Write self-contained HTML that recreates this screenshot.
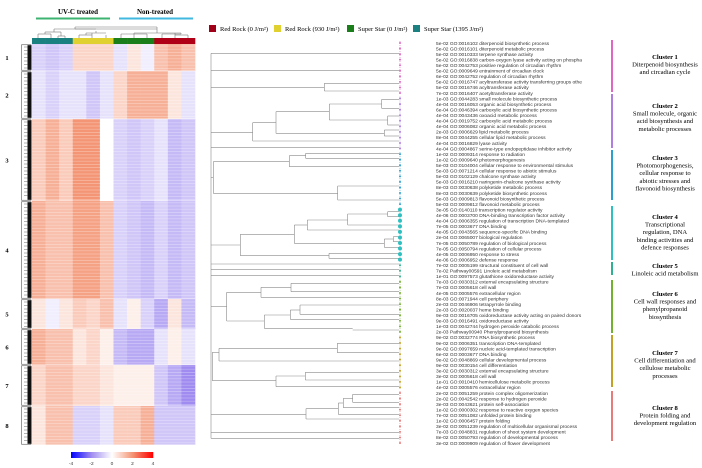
<!DOCTYPE html>
<html><head><meta charset="utf-8"><style>
html,body{margin:0;padding:0;background:#fff;}
svg{display:block;}
</style></head><body>
<svg id="fig" width="702" height="468" viewBox="0 0 702 468" xmlns="http://www.w3.org/2000/svg">
<g id="static">
  <text x="78" y="14" font-family="Liberation Serif, serif" font-size="7" font-weight="bold" text-anchor="middle">UV-C treated</text>
  <line x1="36" y1="18.5" x2="110" y2="18.5" stroke="#3cb371" stroke-width="2"/>
  <text x="155" y="14" font-family="Liberation Serif, serif" font-size="7" font-weight="bold" text-anchor="middle">Non-treated</text>
  <line x1="119" y1="18.5" x2="193" y2="18.5" stroke="#40b8e0" stroke-width="2"/>
  <g font-family="Liberation Serif, serif" font-size="6.5">
    <rect x="209" y="25" width="7" height="7" fill="#a00018"/>
    <text x="220" y="31">Red Rock (0 J/m²)</text>
    <rect x="274" y="25" width="7" height="7" fill="#e0d030"/>
    <text x="285" y="31">Red Rock (930 J/m²)</text>
    <rect x="347" y="25" width="7" height="7" fill="#1a7f1a"/>
    <text x="358" y="31">Super Star (0 J/m²)</text>
    <rect x="413" y="25" width="7" height="7" fill="#1a8080"/>
    <text x="424" y="31">Super Star (1395 J/m²)</text>
  </g>
</g>
<g id="heat"></g>
<g id="coltree" stroke="#777" stroke-width="0.6" fill="none"></g>
<g id="rowtree"></g>
<g id="godend" stroke="#8a8a8a" stroke-width="0.6" fill="none"></g>
<g id="golist"></g>
<g id="clusters"></g>
<g id="cbar"></g>
</svg>
<script>
// ---- heatmap data ----
const columns = ['SS1395-1','SS1395-2','SS1395-3','RR930-1','RR930-2','RR930-3','SS0-1','SS0-2','SS0-3','RR0-1','RR0-2','RR0-3'];
const columnGroupColors = ['#1a8080','#1a8080','#1a8080','#e0d030','#e0d030','#e0d030','#1a7f1a','#1a7f1a','#1a7f1a','#b00018','#b00018','#b00018'];
const geneClusters = ['1','2','3','4','5','6','7','8'];
const clusterRowCounts = [27,48,82,98,30,36,41,39];
const c1 = [-0.8,-1,-0.8,0.8,0.8,0.8,-0.5,0.5,-0.3,1.2,1.5,1.2];
const c2 = [-0.5,-0.8,-0.5,-0.5,-1,-0.5,0.8,1.5,1.5,1.5,0.5,-0.5];
const c3 = [1,1.5,1,2,2,0,-0.8,-1,-0.8,-0.5,-1.2,-1];
const c4 = [1.5,1.2,1.2,1.8,1.8,1.2,-0.8,-1,-1.2,-0.8,-1.2,-1];
const c5 = [0.5,-0.3,0.5,1,0.8,1.2,-0.5,0.3,-0.8,-1.5,0.5,-1.2];
const c6 = [1.5,1.2,1.2,0.5,0.8,0.3,-1.2,-1.5,-1.5,-0.5,0.3,-0.5];
const c7 = [0.8,1.2,1.2,0.8,0.8,0.5,0.3,0.3,0.3,-1,-1.5,-2];
const c8 = [0.5,1.2,1.2,-0.8,-0.8,-0.5,1,1,1.5,-1,-1,-1];
const clusterProfiles = [c1,c2,c3,c4,c5,c6,c7,c8];
const colorbarTicks = [-4,-2,0,2,4];

// ---- GO enrichment data ----
const goTerms = [
"5e-02 GO:0016102 diterpenoid biosynthetic process","5e-02 GO:0016101 diterpenoid metabolic process","5e-02 GO:0010333 terpene synthase activity","5e-02 GO:0016838 carbon-oxygen lyase activity acting on phospha","5e-02 GO:0042753 positive regulation of circadian rhythm","5e-02 GO:0009649 entrainment of circadian clock","6e-02 GO:0042752 regulation of circadian rhythm","5e-02 GO:0016747 acyltransferase activity transferring groups othe","5e-02 GO:0016746 acyltransferase activity","7e-02 GO:0016407 acetyltransferase activity",
"1e-03 GO:0044283 small molecule biosynthetic process","4e-04 GO:0016053 organic acid biosynthetic process","6e-04 GO:0046394 carboxylic acid biosynthetic process","4e-04 GO:0043436 oxoacid metabolic process","4e-04 GO:0019752 carboxylic acid metabolic process","4e-04 GO:0006082 organic acid metabolic process","2e-03 GO:0006629 lipid metabolic process","8e-04 GO:0044255 cellular lipid metabolic process","4e-04 GO:0016829 lyase activity","4e-04 GO:0004867 serine-type endopeptidase inhibitor activity",
"1e-02 GO:0009314 response to radiation","1e-02 GO:0009640 photomorphogenesis","5e-03 GO:0104004 cellular response to environmental stimulus","5e-03 GO:0071214 cellular response to abiotic stimulus","5e-03 GO:0102129 chalcone synthase activity","5e-03 GO:0016210 naringenin-chalcone synthase activity","8e-03 GO:0030638 polyketide metabolic process","8e-03 GO:0030639 polyketide biosynthetic process","5e-03 GO:0009813 flavonoid biosynthetic process","5e-03 GO:0009812 flavonoid metabolic process",
"3e-05 GO:0140110 transcription regulator activity","4e-06 GO:0003700 DNA-binding transcription factor activity","4e-04 GO:0006355 regulation of transcription DNA-templated","7e-05 GO:0003677 DNA binding","4e-05 GO:0043565 sequence-specific DNA binding","2e-04 GO:0065007 biological regulation","7e-05 GO:0050789 regulation of biological process","7e-05 GO:0050794 regulation of cellular process","4e-05 GO:0006950 response to stress","4e-06 GO:0006952 defense response",
"7e-02 GO:0005199 structural constituent of cell wall","7e-02 Pathway00591 Linoleic acid metabolism","1e-01 GO:0097573 glutathione oxidoreductase activity",
"7e-03 GO:0030312 external encapsulating structure","7e-03 GO:0005618 cell wall","4e-05 GO:0005576 extracellular region","8e-03 GO:0071944 cell periphery","2e-03 GO:0046906 tetrapyrrole binding","2e-03 GO:0020037 heme binding","9e-03 GO:0016705 oxidoreductase activity acting on paired donors","9e-03 GO:0016491 oxidoreductase activity","1e-03 GO:0042744 hydrogen peroxide catabolic process","2e-03 Pathway00940 Phenylpropanoid biosynthesis",
"9e-02 GO:0032774 RNA biosynthetic process","9e-02 GO:0006351 transcription DNA-templated","9e-02 GO:0097659 nucleic acid-templated transcription","6e-02 GO:0003677 DNA binding","9e-02 GO:0048869 cellular developmental process","9e-02 GO:0030154 cell differentiation","3e-02 GO:0030312 external encapsulating structure","3e-02 GO:0005618 cell wall","1e-01 GO:0010410 hemicellulose metabolic process","4e-02 GO:0005576 extracellular region",
"2e-02 GO:0051259 protein complex oligomerization","2e-02 GO:0042542 response to hydrogen peroxide","3e-03 GO:0043621 protein self-association","1e-02 GO:0000302 response to reactive oxygen species","7e-02 GO:0051082 unfolded protein binding","1e-02 GO:0006457 protein folding","3e-02 GO:0051239 regulation of multicellular organismal process","7e-03 GO:0048831 regulation of shoot system development","8e-02 GO:0050793 regulation of developmental process","3e-02 GO:0009909 regulation of flower development"];
const goTermCluster = [0,0,0,0,0,0,0,0,0,0, 1,1,1,1,1,1,1,1,1,1, 2,2,2,2,2,2,2,2,2,2, 3,3,3,3,3,3,3,3,3,3, 4,4,4, 5,5,5,5,5,5,5,5,5,5, 6,6,6,6,6,6,6,6,6,6, 7,7,7,7,7,7,7,7,7,7];
const clusterTitles = ['Cluster 1','Cluster 2','Cluster 3','Cluster 4','Cluster 5','Cluster 6','Cluster 7','Cluster 8'];
const clusterDescriptions = [
 ['Diterpenoid biosynthesis','and circadian cycle'],
 ['Small molecule, organic','acid biosynthesis and','metabolic processes'],
 ['Photomorphogenesis,','cellular response to','abiotic stresses and','flavonoid biosynthesis'],
 ['Transcriptional','regulation, DNA','binding activities and','defence responses'],
 ['Linoleic acid metabolism'],
 ['Cell wall responses and','phenylpropanoid','biosynthesis'],
 ['Cell differentiation and','cellulose metabolic','processes'],
 ['Protein folding and','development regulation']];
const clusterColors = ['#e066c4','#b07ee0','#2a9fd0','#2ebfc0','#2fb08e','#72b030','#c4a025','#e87a7a'];

const NS='http://www.w3.org/2000/svg';
function mk(tag, attrs, parent){const e=document.createElementNS(NS,tag);for(const k in attrs)e.setAttribute(k,attrs[k]);parent.appendChild(e);return e;}

function mix(a,b,t){return a.map((v,i)=>Math.round(v+(b[i]-v)*t));}
function valColor(v){
  v=Math.max(-4,Math.min(4,v));let c;
  if(v>=0){c = v<=2?mix([255,255,255],[244,150,118],v/2):mix([244,150,118],[255,0,0],(v-2)/2);}
  else {const a=-v; c = a<=2?mix([255,255,255],[160,140,240],a/2):mix([160,140,240],[0,0,255],(a-2)/2);}
  return 'rgb('+c.join(',')+')';
}

const hx0=32,hx1=195,hy0=44,hy1=445;
const totalRows=clusterRowCounts.reduce((a,b)=>a+b,0);
const xCol=i=>hx0+(hx1-hx0)*i/columns.length;
const yRow=r=>hy0+(hy1-hy0)*r/totalRows;
const heat=document.getElementById('heat');
const hmG=mk('g',{},heat);


columns.forEach((c,i)=>{
  const r=mk('rect',{x:xCol(i),y:38,width:xCol(i+1)-xCol(i)+0.3,height:6,fill:columnGroupColors[i]},hmG);
  
  
});
let rowStart=0;
const rowTree=document.getElementById('rowtree');
geneClusters.forEach((cl,k)=>{
  const prof=clusterProfiles[k];
  const ya=yRow(rowStart), yb=yRow(rowStart+clusterRowCounts[k]);
  prof.forEach((v,i)=>{
    const r=mk('rect',{x:xCol(i),y:ya,width:xCol(i+1)-xCol(i)+0.3,height:yb-ya,fill:valColor(v)},hmG);
    
    
  });
  const s=mk('line',{x1:hx0-12,x2:hx1,y1:yb,y2:yb,stroke:'#fff','stroke-width':0.8},hmG);
  
  
  const tb=mk('rect',{x:21.5,y:ya+0.8,width:9.5,height:yb-ya-1.6,fill:'none',stroke:'#333','stroke-width':0.5},rowTree);
  
  
  const fill=mk('rect',{x:27.5,y:ya+1.2,width:4,height:yb-ya-2.4,fill:'#111'},rowTree);
  
  
  for(let y=ya+3;y<yb-2;y+=3.5){
    const b=mk('line',{x1:24,x2:28,y1:y,y2:y,stroke:'#444','stroke-width':0.4},rowTree);
    
    
  }
  const lab=mk('text',{x:7,y:(ya+yb)/2+2.5,'font-family':'Liberation Serif, serif','font-size':6.5,'font-weight':'bold','text-anchor':'middle'},rowTree);
  lab.textContent=cl;
  
  
  rowStart+=clusterRowCounts[k];
});
for(let y=hy0+2;y<hy1;y+=3.2){
  const l=mk('line',{x1:hx0,x2:hx1,y1:y,y2:y,stroke:'#fff','stroke-opacity':0.35,'stroke-width':0.7},hmG);
  
  
}

const ct=document.getElementById('coltree');


const colSegs=[[38,38,38,34],[51,38,51,34],[38,34,51,34],[58,38,58,36],[65,38,65,36],[58,36,65,36],[45,34,45,32],[61,36,61,32],[45,32,61,32],[79,38,79,35],[92,38,92,33],[106,38,106,35],[79,35,92,35],[86,35,86,33],[86,33,106,33],[96,33,96,31],[54,32,54,29],[54,29,96,29],[121,38,121,34],[134,38,134,33],[147,38,147,34],[121,34,147,34],[162,38,162,34],[175,38,175,33],[188,38,188,35],[175,35,188,35],[162,34,181,34],[181,34,181,33],[134,33,181,33],[157,33,157,29],[75,29,157,29],[75,29,75,27],[157,29,157,27],[75,27,157,27]];
colSegs.forEach(s=>{mk('line',{x1:s[0],y1:s[1],x2:s[2],y2:s[3]},ct);});

const goY0=43, goY1=443;
const yGo=i=>goY0+(goY1-goY0)*i/(goTerms.length-1);
const gl=document.getElementById('golist');
goTerms.forEach((t,i)=>{
  const tx=mk('text',{x:436,y:yGo(i)+1.8,'font-family':'Liberation Sans, sans-serif','font-size':4.9,fill:'#333'},gl);
  tx.textContent=t;
  
  
  const col=clusterColors[goTermCluster[i]];
  const big=goTermCluster[i]===3;
  const d=mk('circle',{cx:400,cy:yGo(i),r:big?2:1,fill:col},gl);
  
  
});
clusterColors.forEach((c,k)=>{
  const idx=goTermCluster.map((v,i)=>v===k?i:-1).filter(i=>i>=0);
  const l=mk('line',{x1:400,x2:400,y1:yGo(idx[0])-2,y2:yGo(idx[idx.length-1])+2,stroke:c,'stroke-width':0.6,'stroke-dasharray':'1,1'},gl);
  
  
});

const gd=document.getElementById('godend');


const X=z=>200+z/3, Y=z=>40+z/3;
function H(zy,zx1,zx2){mk('line',{x1:X(zx1),x2:X(zx2),y1:Y(zy),y2:Y(zy)},gd);}
function V(zx,zy1,zy2){mk('line',{x1:X(zx),x2:X(zx),y1:Y(zy1),y2:Y(zy2)},gd);}
V(33,40,1195);
[40,92,322,672,688,706,1177,1195].forEach(y=>H(y,33,597));
H(130,373,597);H(153,373,597);V(373,130,153);H(143,33,373);
H(178,545,597);H(205,545,597);V(545,178,205);H(228,563,597);H(255,563,597);V(563,228,255);H(192,388,545);H(240,388,563);V(388,192,240);
H(270,553,597);H(288,553,597);V(553,270,288);H(215,228,388);H(280,228,553);V(228,215,280);H(248,158,228);H(303,158,597);V(158,248,303);H(278,33,158);
H(340,317,597);H(355,317,597);V(317,340,355);H(380,268,597);H(347,268,317);V(268,347,380);H(438,413,597);H(480,413,597);V(413,438,480);H(365,40,268);H(460,40,413);V(40,365,460);H(412,33,40);
H(515,563,597);H(530,563,597);V(563,515,530);H(522,443,563);H(555,443,597);V(443,522,555);H(540,322,443);H(570,322,597);V(322,540,570);
H(590,580,597);H(605,580,597);V(580,590,605);H(597,553,580);H(622,553,597);V(553,597,622);H(555,283,322);H(610,283,553);V(283,555,610);
H(640,387,597);H(655,387,597);V(387,640,655);H(583,121,283);H(647,121,387);V(121,583,647);H(615,33,121);
H(730,273,597);H(755,273,597);V(273,730,755);H(742,183,273);H(772,183,597);V(183,742,772);
H(795,300,597);H(823,300,597);V(300,795,823);H(810,271,300);H(838,271,597);V(271,810,838);H(870,458,597);H(825,193,271);H(865,193,458);V(193,825,865);H(757,80,183);H(843,80,193);V(80,757,843);H(800,33,80);
H(910,412,597);H(938,412,597);V(412,910,938);H(925,57,412);H(963,57,597);V(57,925,963);
H(997,316,597);H(1020,316,597);V(316,997,1020);H(1008,228,316);H(1040,228,597);V(228,1008,1040);H(937,37,57);H(1022,37,228);V(37,937,1022);
H(1063,458,597);H(1087,458,597);V(458,1063,1087);H(1075,430,458);H(1103,430,597);V(430,1075,1103);H(1089,415,430);H(1123,415,597);V(415,1089,1123);H(1106,318,415);H(1137,318,597);V(318,1106,1137);H(1123,33,318);

const clusterBars=[[40,92],[94,148],[150,200],[206,260],[262,275],[280,333],[335,387],[391,441]];
const titleY=[57,106,158,217,266,294,353,408];
const cg=document.getElementById('clusters');
clusterTitles.forEach((t,k)=>{
  const b=mk('line',{x1:612,x2:612,y1:clusterBars[k][0],y2:clusterBars[k][1],stroke:clusterColors[k],'stroke-width':2},cg);
  
  
  const tt=mk('text',{x:665,y:titleY[k]+2,'font-family':'Liberation Serif, serif','font-size':6.6,'font-weight':'bold','text-anchor':'middle'},cg);
  tt.textContent=t;
  
  
  clusterDescriptions[k].forEach((line,j)=>{
    const d=mk('text',{x:665,y:titleY[k]+2+7.6*(j+1),'font-family':'Liberation Serif, serif','font-size':6.6,'text-anchor':'middle'},cg);
    d.textContent=line;
    
    
  });
});

const cb=document.getElementById('cbar');


const bx0=71,bx1=153;
const xb=v=>bx0+(bx1-bx0)*(v+4)/8;
for(let i=0;i<82;i++){
  const v=-4+8*i/82;
  const r=mk('rect',{x:xb(v),y:452,width:(bx1-bx0)/82+0.3,height:6,fill:valColor(v+4/82)},cb);
  
  
}
colorbarTicks.forEach(v=>{
  const t=mk('text',{x:xb(v),y:465,'font-family':'Liberation Sans, sans-serif','font-size':4.8,'text-anchor':'middle',fill:'#333'},cb);
  t.textContent=v;
  
  
});
</script>
</body></html>
